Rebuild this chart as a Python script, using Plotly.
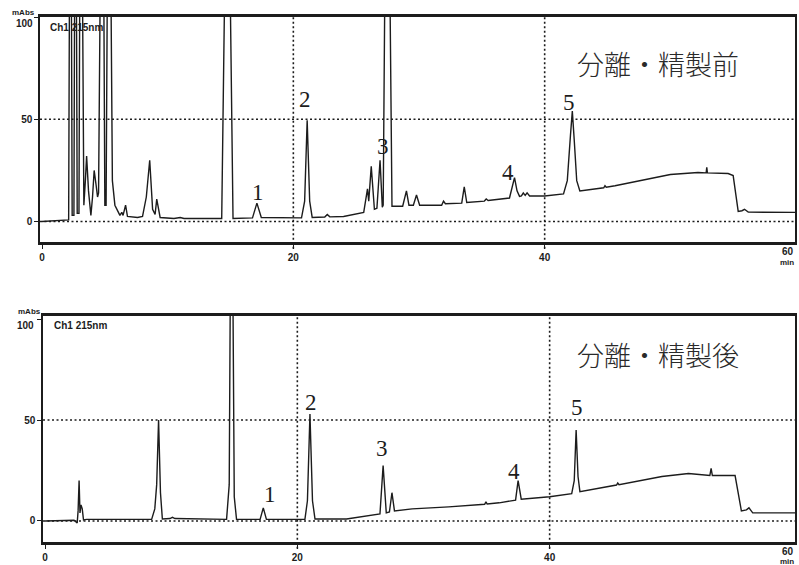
import plotly.graph_objects as go

# ---------------- data ----------------
# retention time (min) and absorbance (mAbs) of the chromatogram BEFORE separation/purification
before_t = [0.0, 1.5, 2.12, 2.26, 2.4, 2.54, 2.66, 2.8, 2.94, 3.08, 3.33, 3.45, 3.55, 3.7, 3.89,
            4.02, 4.15, 4.3, 4.42, 4.5, 4.81, 5.0, 5.1, 5.32, 5.6, 5.8, 6.2, 6.35, 6.45, 6.65,
            6.8, 7.6, 8.0, 8.3, 8.57, 8.8, 9.0, 9.13, 9.4, 10.5, 11.0, 11.3, 14.3, 14.76, 15.2,
            16.75, 17.1, 17.45, 20.65, 20.9, 21.1, 21.3, 21.5, 22.5, 22.7, 22.9, 24.0, 25.6,
            25.9, 26.0, 26.2, 26.45, 26.65, 26.9, 27.08, 27.15, 27.46, 27.85, 28.7, 29.0, 29.2,
            29.55, 29.8, 30.05, 31.8, 31.95, 32.1, 33.4, 33.6, 33.8, 35.2, 35.35, 35.5, 37.2,
            37.45, 37.6, 37.8, 38.0, 38.15, 38.3, 38.45, 38.6, 38.8, 40.0, 41.5, 41.8, 42.05,
            42.2, 42.35, 42.55, 42.8, 44.7, 44.8, 44.9, 45.6, 47.5, 50.0, 52.2, 52.85, 52.9,
            52.95, 54.6, 55.0, 55.4, 55.7, 55.9, 56.2, 60.0]
before_v = [0.0, 0.4, 0.8, 250, 3, 3, 250, 4, 4, 250, 8, 20, 32, 15, 3,
            12, 25, 18, 12, 14, 250, 8, 8, 250, 20, 8, 3, 4.5, 3, 8,
            2.5, 2, 2.5, 12, 30, 6, 3.5, 11, 2, 1.5, 2, 1.5, 1.5, 220, 1.5,
            1.8, 9, 2, 1.8, 10, 49.5, 10, 2, 2.2, 3.5, 2.3, 2.5, 4.5,
            16, 10, 27, 6, 6.5, 30, 7, 8, 260, 7.5, 7.5, 15, 8,
            8, 13, 8, 8, 10, 8.7, 9, 17, 9.3, 10, 11, 10.3, 11.5,
            18, 21.5, 15, 12.3, 12.5, 14, 12.8, 14, 12.5, 12.5, 13.5, 20, 42,
            54, 40, 20, 15, 16.5, 17.5, 16.8, 17.5, 20, 23, 24, 23.8, 26.5,
            23.8, 23.5, 22.5, 5, 5.3, 6, 4.6, 4.5]

# chromatogram AFTER separation/purification
after_t = [0.0, 2.3, 2.55, 2.62, 2.7, 2.77, 2.85, 2.95, 3.05, 3.3, 8.45, 8.7, 8.85, 9.0, 9.15,
           9.3, 9.9, 10.1, 10.3, 14.39, 14.6, 14.78, 15.0, 15.18, 17.05, 17.3, 17.55, 20.6,
           20.8, 21.0, 21.2, 21.4, 23.9, 26.55, 26.8, 27.05, 27.3, 27.5, 27.7, 29.1, 32.0,
           34.85, 34.95, 35.05, 36.0, 37.3, 37.5, 37.75, 40.0, 41.75, 41.95, 42.1, 42.25,
           42.4, 45.3, 45.4, 45.5, 48.9, 51.0, 52.7, 52.8, 52.9, 54.7, 55.2, 55.6, 55.8,
           56.1, 60.0]
after_v = [0.0, 0.4, -1, 5, 20, 4, 8, 6, 0.5, 0.8, 0.8, 6, 18, 50, 14,
           1, 1.2, 1.8, 1.2, 0.8, 18, 220, 12, 0.8, 0.8, 6.5, 0.8, 0.8,
           10, 53, 10, 1, 1, 3.5, 27.5, 4, 4.5, 14, 5, 6, 7,
           8.3, 9.5, 8.4, 9, 10.3, 20, 10.8, 12, 13.5, 20, 45, 22,
           14.5, 17.8, 18.8, 18, 22, 23.5, 22.5, 26, 22.5, 22.5, 5, 5.5, 6.5,
           4, 4]

x_ticks = [0, 20, 40, 60]
y_ticks = [0, 50, 100]
x_grid = [20, 40]
y_grid = [0, 50]

peak_names = ["1", "2", "3", "4", "5"]
panel_titles = ["分離・精製前", "分離・精製後"]
channel_label = "Ch1 215nm"
unit_label = "mAbs"
time_unit = "min"

# ---------------- styling / layout ----------------
INK = "#1c1c1c"
W, H = 799, 565
ML, MR, MT, MB = 40, 2, 17, 23
PLOT_W, PLOT_H = W - ML - MR, H - MT - MB


def px_to_paper(px, py):
    return (px - ML) / PLOT_W, (H - MB - py) / PLOT_H


fig = go.Figure()
fig.add_trace(go.Scatter(x=before_t, y=before_v, mode="lines",
                         line=dict(color=INK, width=1.4), xaxis="x", yaxis="y",
                         hoverinfo="skip", showlegend=False))
fig.add_trace(go.Scatter(x=after_t, y=after_v, mode="lines",
                         line=dict(color=INK, width=1.4), xaxis="x2", yaxis="y2",
                         hoverinfo="skip", showlegend=False))

tick_font = dict(family="Liberation Sans Narrow, Liberation Sans, Arial", size=10,
                 color=INK, weight="bold")


def xaxis_cfg(rng, domain, anchor):
    return dict(range=rng, domain=domain, anchor=anchor, tickvals=x_ticks,
                ticktext=[str(v) for v in x_ticks], showgrid=False, zeroline=False,
                showline=True, linecolor=INK, linewidth=2.5, mirror=True,
                ticks="outside", ticklen=4, tickwidth=1, tickcolor=INK,
                tickfont=tick_font, fixedrange=True)


def yaxis_cfg(rng, domain, anchor):
    # the top label (100) is drawn separately, just below the frame as in the reference
    return dict(range=rng, domain=domain, anchor=anchor, tickvals=y_ticks,
                ticktext=[str(v) if v != 100 else "" for v in y_ticks], showgrid=False,
                zeroline=False, showline=True, linecolor=INK, linewidth=1.5, mirror=True,
                ticks="outside", ticklen=4, tickwidth=1, tickcolor=INK,
                tickfont=tick_font, fixedrange=True)


fig.update_layout(
    width=W, height=H,
    margin=dict(l=ML, r=MR, t=MT, b=MB),
    paper_bgcolor="white", plot_bgcolor="white",
    xaxis=xaxis_cfg([-0.16, 59.92], [0, 1], "y"),
    yaxis=yaxis_cfg([-10, 100], [0.5714, 1], "x"),
    xaxis2=xaxis_cfg([-0.16, 59.45], [0.004, 1], "y2"),
    yaxis2=yaxis_cfg([-10.4, 101.5], [0, 0.4305], "x2"),
)

dotted = dict(color=INK, width=1.6, dash="2px,2.5px")
shapes = []
for xr, yr in [("x", "y"), ("x2", "y2")]:
    for g in x_grid:
        shapes.append(dict(type="line", xref=xr, yref=yr + " domain", x0=g, x1=g, y0=-0.03, y1=1,
                           line=dotted, layer="below"))
    for g in y_grid:
        shapes.append(dict(type="line", xref=xr + " domain", yref=yr, x0=0, x1=1, y0=g, y1=g,
                           line=dotted, layer="below"))
fig.update_layout(shapes=shapes)

serif = dict(family="Liberation Serif, DejaVu Serif, serif", size=23, color=INK)
cjk = dict(family="Noto Sans CJK JP", size=27, color="#2a2a2a", weight=300)
small = dict(family="Liberation Sans Narrow, Liberation Sans, Arial", size=10, color=INK, weight="bold")
tiny = dict(family="Liberation Sans Narrow, Liberation Sans, Arial", size=8, color=INK, weight="bold")

label_pos_before = [(17.2, 14.2), (20.9, 59.8), (27.1, 36.8), (37.1, 24.0), (41.9, 58.3)]
label_pos_after = [(17.8, 12.9), (21.1, 58.9), (26.7, 36.1), (37.2, 24.3), (42.2, 56.4)]

ann = []
for name, (tx, ty) in zip(peak_names, label_pos_before):
    ann.append(dict(x=tx, y=ty, xref="x", yref="y", text=name, showarrow=False, font=serif))
for name, (tx, ty) in zip(peak_names, label_pos_after):
    ann.append(dict(x=tx, y=ty, xref="x2", yref="y2", text=name, showarrow=False, font=serif))

ann.append(dict(x=49.0, y=77.5, xref="x", yref="y", text=panel_titles[0], showarrow=False, font=cjk))
ann.append(dict(x=48.6, y=82.2, xref="x2", yref="y2", text=panel_titles[1], showarrow=False, font=cjk))

ann.append(dict(x=0.45, y=95, xref="x", yref="y", text=channel_label, showarrow=False,
                xanchor="left", font=small))
ann.append(dict(x=0.55, y=97, xref="x2", yref="y2", text=channel_label, showarrow=False,
                xanchor="left", font=small))


def paper_text(text, px, py, font, xanchor="center"):
    x, y = px_to_paper(px, py)
    ann.append(dict(x=x, y=y, xref="paper", yref="paper", text=text, showarrow=False,
                    xanchor=xanchor, yanchor="middle", font=font))


paper_text(unit_label, 23, 12, tiny)
paper_text(unit_label, 29, 311, tiny)
paper_text(str(y_ticks[-1]), 35, 24, tick_font, xanchor="right")
paper_text(str(y_ticks[-1]), 36, 325, tick_font, xanchor="right")
# right-edge labels (cut by the page edge in the reference) kept fully inside the page
paper_text(str(x_ticks[-1]), 798, 251, tick_font, xanchor="right")
paper_text(time_unit, 798, 262, tiny, xanchor="right")
paper_text(str(x_ticks[-1]), 798, 551, tick_font, xanchor="right")
paper_text(time_unit, 798, 561, tiny, xanchor="right")
fig.update_layout(annotations=ann)

fig.write_html("out.html")
